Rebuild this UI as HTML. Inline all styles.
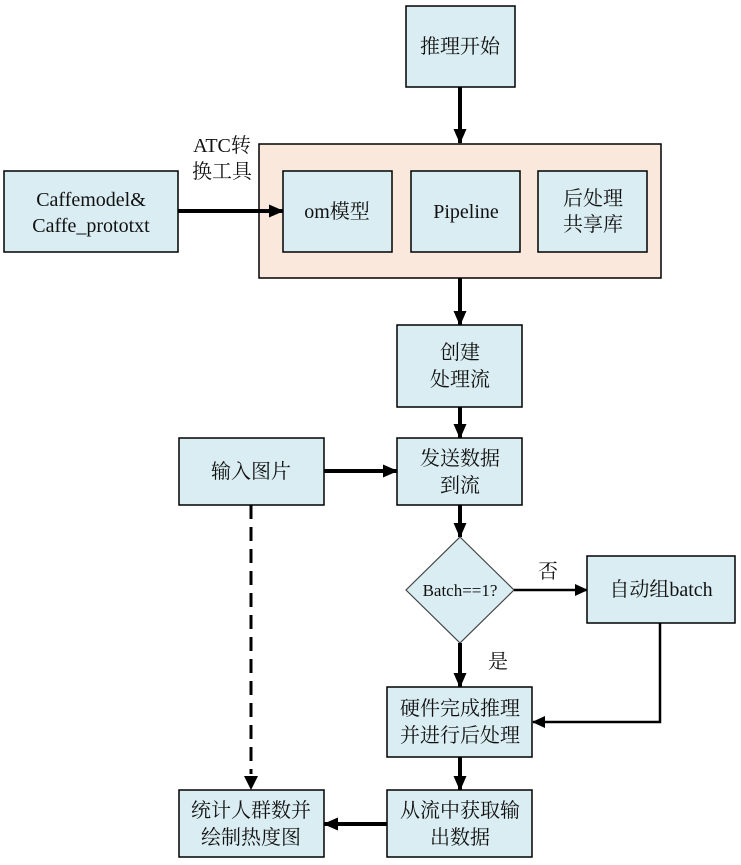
<!DOCTYPE html>
<html><head><meta charset="utf-8"><style>
html,body{margin:0;padding:0;background:#fff;}
svg{display:block;}
text{font-family:"Liberation Serif","Noto Serif CJK SC",serif;font-size:20px;fill:#111;text-anchor:middle;}
.b{fill:#daedf2;stroke:#000;stroke-width:1.5;}
.l{stroke:#000;stroke-width:4;fill:none;}
</style></head><body>
<svg width="741" height="865" viewBox="0 0 741 865" xmlns="http://www.w3.org/2000/svg">
<defs><marker id="a" markerWidth="16" markerHeight="14" refX="14" refY="7" orient="auto" markerUnits="userSpaceOnUse"><path d="M0,0.5 L15,7 L0,13.5 z" fill="#000"/></marker>
<marker id="s" markerWidth="14" markerHeight="12" refX="12" refY="6" orient="auto" markerUnits="userSpaceOnUse"><path d="M0,0 L13,6 L0,12 z" fill="#000"/></marker></defs>

<rect class="b" x="406" y="6" width="109" height="81"/>
<text x="460" y="53">推理开始</text>
<line class="l" x1="460" y1="87" x2="460" y2="143" marker-end="url(#a)"/>

<rect x="259" y="144" width="402" height="134" fill="#fbe8dc" stroke="#000" stroke-width="1.5"/>
<rect class="b" x="283" y="171" width="109" height="81"/>
<text x="337" y="218">om模型</text>
<rect class="b" x="411" y="171" width="109" height="81"/>
<text x="466" y="218" style="font-family:'Liberation Serif',serif;font-size:20px">Pipeline</text>
<rect class="b" x="538" y="171" width="109" height="81"/>
<text x="593" y="205">后处理</text><text x="593" y="231">共享库</text>

<rect class="b" x="4" y="171" width="174" height="81"/>
<text x="91" y="206">Caffemodel&amp;</text><text x="91" y="232">Caffe_prototxt</text>
<line class="l" x1="178" y1="211" x2="283" y2="211" marker-end="url(#a)"/>
<text x="222" y="152">ATC转</text><text x="222" y="178">换工具</text>

<line class="l" x1="460" y1="278" x2="460" y2="325" marker-end="url(#a)"/>
<rect class="b" x="397" y="325" width="125" height="82"/>
<text x="460" y="359">创建</text><text x="460" y="386">处理流</text>
<line class="l" x1="460" y1="407" x2="460" y2="438" marker-end="url(#a)"/>
<rect class="b" x="397" y="438" width="125" height="67"/>
<text x="460" y="465">发送数据</text><text x="460" y="492">到流</text>
<rect class="b" x="179" y="438" width="145" height="67"/>
<text x="251" y="478">输入图片</text>
<line class="l" x1="324" y1="471" x2="397" y2="471" marker-end="url(#a)"/>
<line class="l" x1="460" y1="505" x2="460" y2="537" marker-end="url(#a)"/>

<polygon points="460,537 514,590 460,643 406,590" fill="#daedf2" stroke="#444" stroke-width="1.2"/>
<text x="460" y="596" style="font-size:17px">Batch==1?</text>
<line x1="514" y1="590" x2="587" y2="590" stroke="#000" stroke-width="2.5" marker-end="url(#s)"/>
<text x="548" y="578">否</text>
<rect class="b" x="587" y="556" width="148" height="67"/>
<text x="661" y="596">自动组batch</text>
<polyline points="660,623 660,722 533,722" stroke="#000" stroke-width="2.5" fill="none" marker-end="url(#s)"/>
<text x="498" y="668">是</text>
<line class="l" x1="460" y1="643" x2="460" y2="687" marker-end="url(#a)"/>
<rect class="b" x="387" y="687" width="145" height="70"/>
<text x="460" y="715">硬件完成推理</text><text x="460" y="742">并进行后处理</text>
<line class="l" x1="460" y1="757" x2="460" y2="790" marker-end="url(#a)"/>
<rect class="b" x="387" y="790" width="145" height="67"/>
<text x="460" y="817">从流中获取输</text><text x="460" y="844">出数据</text>
<rect class="b" x="179" y="790" width="145" height="67"/>
<text x="251" y="817">统计人群数并</text><text x="251" y="844">绘制热度图</text>
<line class="l" x1="387" y1="824" x2="324" y2="824" marker-end="url(#a)"/>
<line x1="251" y1="505" x2="251" y2="774" stroke="#000" stroke-width="3" stroke-dasharray="14,8"/>
<path d="M244,776 L258,776 L251,790 z" fill="#000"/>
</svg>
</body></html>
